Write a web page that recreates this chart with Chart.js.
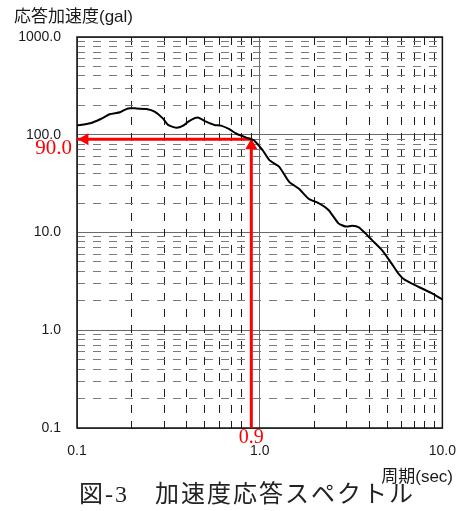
<!DOCTYPE html>
<html>
<head>
<meta charset="utf-8">
<script src="https://cdn.jsdelivr.net/npm/chart.js@4.4.1/dist/chart.umd.min.js"></script>
<style>
html, body { margin: 0; padding: 0; background: #fff; }
</style>
</head>
<body>
<canvas id="chart" width="471" height="511"></canvas>
<script>
// response spectrum
var periods = [0.1, 0.118, 0.134, 0.151, 0.172, 0.19, 0.211, 0.24, 0.266, 0.295, 0.315, 0.349, 0.379, 0.413, 0.458,
    0.509, 0.565, 0.614, 0.682, 0.742, 0.838, 0.9, 0.93, 1.035, 1.13, 1.28, 1.45, 1.64, 1.86, 2.1, 2.38, 2.7, 2.96,
    3.21, 3.49, 3.79, 4.11, 4.67, 5.28, 5.75, 6.2, 7.36, 8.72, 10];
var accel = [124, 131, 144, 162, 170, 186, 186, 183, 172, 147, 126, 118, 123, 139, 150,
    136, 126, 124, 114, 103, 94, 90, 88, 70, 55, 47, 33, 28, 22, 20, 17, 12.4, 11.5,
    11.7, 11.3, 9.8, 8.4, 6.6, 4.8, 3.8, 3.3, 2.8, 2.4, 2.07];

// read-off point (red arrows)
var readPeriod = 0.9;
var readAccel = 90.0;
var arrowHeadPeriod = 0.1105; // centre of the left-pointing head
var arrowHeadAccel = 77;      // centre of the up-pointing head

var xMajor = [0.1, 1, 10];
var xMajorLabels = ['0.1', '1.0', '10.0'];
var yMajor = [0.1, 1, 10, 100, 1000];
var yMajorLabels = ['0.1', '1.0', '10.0', '100.0', '1000.0'];
var minorSteps = [2, 3, 4, 5, 6, 7, 8, 9];

var yTitle = '応答加速度(gal)';
var xTitle = '周期(sec)';
var caption = '図-3　加速度応答スペクトル';

function logTicks(majors) {
    var t = majors.slice();
    for (var i = 0; i < majors.length - 1; i++) {
        minorSteps.forEach(function (k) { t.push(majors[i] * k); });
    }
    return t.sort(function (a, b) { return a - b; }).map(function (v) { return { value: v }; });
}

function isMajor(list, ctx) {
    return ctx.tick && list.indexOf(ctx.tick.value) >= 0;
}

// main scale: labels + solid decade lines
function mainScale(pos, majors, labels, min, max) {
    return {
        type: 'logarithmic',
        position: pos,
        min: min,
        max: max,
        afterBuildTicks: function (s) { s.ticks = logTicks(majors); },
        afterFit: function (s) {
            if (pos == 'left') s.width = 77; else s.height = 40;
        },
        grid: {
            drawTicks: false,
            lineWidth: 1,
            color: function (ctx) { return isMajor(majors, ctx) ? '#6a6a6a' : 'rgba(0,0,0,0)'; }
        },
        border: { display: false },
        ticks: {
            autoSkip: false,
            maxRotation: 0,
            padding: pos == 'left' ? 16 : 15,
            color: '#1a1a1a',
            font: { family: '"Liberation Sans", Arial', size: 14 },
            callback: function (v) {
                var i = majors.indexOf(v);
                return i >= 0 ? labels[i] : '';
            }
        }
    };
}

// helper scale: dashed minor lines only
function minorScale(pos, majors, min, max, colour) {
    return {
        type: 'logarithmic',
        position: pos,
        min: min,
        max: max,
        afterBuildTicks: function (s) { s.ticks = logTicks(majors); },
        afterFit: function (s) {
            if (pos == 'right') s.width = 0; else s.height = 0;
        },
        grid: {
            drawTicks: false,
            lineWidth: 1,
            color: function (ctx) { return isMajor(majors, ctx) ? 'rgba(0,0,0,0)' : colour; }
        },
        border: { display: false, dash: [8, 8] },
        ticks: { display: false }
    };
}

var framePlugin = {
    id: 'frame',
    beforeDatasetsDraw: function (chart) {
        var a = chart.chartArea, ctx = chart.ctx;
        ctx.save();
        ctx.strokeStyle = '#111';
        ctx.lineWidth = 1.5;
        ctx.strokeRect(a.left, a.top, a.right - a.left, a.bottom - a.top);
        ctx.restore();
    }
};

var textPlugin = {
    id: 'texts',
    afterDraw: function (chart) {
        var ctx = chart.ctx;
        var sx = chart.scales.x, sy = chart.scales.y;
        ctx.save();
        ctx.fillStyle = '#1a1a1a';
        ctx.textBaseline = 'alphabetic';
        ctx.font = '17px "Liberation Sans", "Noto Sans CJK JP"';
        ctx.textAlign = 'left';
        ctx.fillText(yTitle, 14, 22);
        ctx.textAlign = 'right';
        ctx.fillText(xTitle, 453, 482);

        ctx.font = '24px "Liberation Serif", "Noto Sans CJK JP"';
        ctx.textAlign = 'left';
        ctx.fillStyle = '#222';
        if ('letterSpacing' in ctx) ctx.letterSpacing = '2px';
        ctx.fillText(caption, 79, 502);
        if ('letterSpacing' in ctx) ctx.letterSpacing = '0px';

        ctx.fillStyle = '#ff0000';
        ctx.font = '21px "Liberation Serif", "Times New Roman"';
        ctx.textAlign = 'right';
        ctx.fillText(readAccel.toFixed(1), chart.chartArea.left - 5, sy.getPixelForValue(readAccel) + 15);
        ctx.font = '20px "Liberation Serif", "Times New Roman"';
        ctx.textAlign = 'center';
        ctx.fillText(readPeriod.toFixed(1), sx.getPixelForValue(readPeriod), chart.chartArea.bottom + 15);
        ctx.restore();
    }
};

var spectrum = periods.map(function (p, i) { return { x: p, y: accel[i] }; });

var config = {
    type: 'scatter',
    data: {
        datasets: [
            {
                label: 'spectrum',
                data: spectrum,
                showLine: true,
                borderColor: '#000',
                borderWidth: 2,
                pointRadius: 0,
                tension: 0.2
            },
            {
                label: 'readH',
                data: [{ x: readPeriod, y: readAccel }, { x: xMajor[0], y: readAccel }],
                showLine: true,
                borderColor: '#ff0000',
                borderWidth: 3,
                pointRadius: 0
            },
            {
                label: 'readV',
                data: [{ x: readPeriod, y: yMajor[0] }, { x: readPeriod, y: readAccel }],
                showLine: true,
                borderColor: '#ff0000',
                borderWidth: 3,
                pointRadius: 0
            },
            {
                label: 'heads',
                data: [{ x: arrowHeadPeriod, y: readAccel }, { x: readPeriod, y: arrowHeadAccel }],
                pointStyle: 'triangle',
                rotation: [270, 0],
                pointRadius: 7,
                backgroundColor: '#ff0000',
                borderColor: '#ff0000',
                borderWidth: 0
            }
        ]
    },
    options: {
        responsive: false,
        animation: false,
        events: [],
        layout: { padding: { left: 0, right: 27, top: 37, bottom: 43 } },
        plugins: { legend: { display: false }, tooltip: { enabled: false } },
        scales: {
            x: mainScale('bottom', xMajor, xMajorLabels, 0.1, 10),
            y: mainScale('left', yMajor, yMajorLabels, 0.1, 1000),
            x2: minorScale('top', xMajor, 0.1, 10, '#1e1e1e'),
            y2: minorScale('right', yMajor, 0.1, 1000, '#7a7a7a')
        }
    },
    plugins: [framePlugin, textPlugin]
};

var myChart = new Chart(document.getElementById('chart'), config);
</script>
</body>
</html>
